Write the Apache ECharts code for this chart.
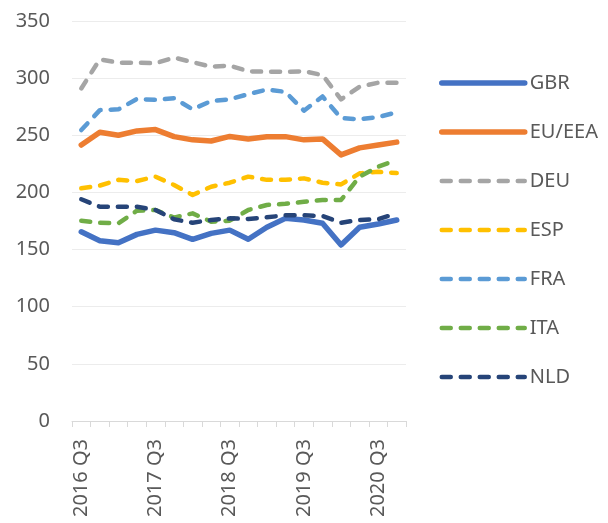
<!DOCTYPE html>
<html><head><meta charset="utf-8">
<script src="https://cdn.jsdelivr.net/npm/echarts@6/dist/echarts.min.js"></script>
<style>html,body{margin:0;padding:0;background:#fff}#c{width:608px;height:523px}</style>
</head><body><div id="c"></div>
<script>
const categories = ["2016 Q3","2016 Q4","2017 Q1","2017 Q2","2017 Q3","2017 Q4","2018 Q1","2018 Q2","2018 Q3","2018 Q4","2019 Q1","2019 Q2","2019 Q3","2019 Q4","2020 Q1","2020 Q2","2020 Q3","2020 Q4"];
const GBR = [165.6,157.8,156,163.3,167,164.8,159,164.2,167,159,169.5,177.3,175.9,173,154,169.5,172.4,175.9];
const EU_EEA = [241.5,252.6,250,253.8,255,248.8,246,245,249,246.8,248.8,248.8,246,246.8,232.8,239,241.5,244];
const DEU = [291,316.5,313.5,313.5,313,318,314,310,311,306,305.6,305.6,306,302.7,281.5,292.5,296,296];
const ESP = [203.6,206,211,210,213.8,206.5,197.8,205,208.5,213.8,211,211,212.3,208.5,207,216.7,218,217];
const FRA = [254.6,272,272.7,281.8,281,282.4,272.7,280,281.5,286,290,288,271.5,284,265,264,266,270];
const ITA = [175.3,173.5,173,184,184.6,178,181.7,174.4,175.3,184.6,189,190,191.9,193.4,193.4,213.8,222.5,228.4];
const NLD = [194,187.5,187.5,187.5,184.6,176.5,173.5,175.9,177.3,176.8,178.2,180,180,179.4,173.5,175.9,176.5,181.7];
const yTicks = [0,50,100,150,200,250,300,350];

const seriesDefs = [
  {name:"GBR", data:GBR, color:"#4472C4", dashed:false},
  {name:"EU/EEA", data:EU_EEA, color:"#ED7D31", dashed:false},
  {name:"DEU", data:DEU, color:"#A5A5A5", dashed:true},
  {name:"ESP", data:ESP, color:"#FFC000", dashed:true},
  {name:"FRA", data:FRA, color:"#5B9BD5", dashed:true},
  {name:"ITA", data:ITA, color:"#70AD47", dashed:true},
  {name:"NLD", data:NLD, color:"#264478", dashed:true}
];
const font = "'Noto Sans', 'Open Sans', sans-serif";
const chart = echarts.init(document.getElementById('c'), null, {renderer:'canvas'});
const lineStyleFor = s => ({color:s.color, width:s.dashed?4.5:5.5, type:s.dashed?[9,10]:'solid', cap:'round', join:'round'});
chart.setOption({
  animation:false,
  backgroundColor:'#fff',
  grid:{left:72, right:202, top:21, bottom:102, containLabel:false},
  xAxis:{
    type:'category', data:categories, boundaryGap:true,
    axisLine:{lineStyle:{color:'#d9d9d9', width:1}},
    axisTick:{show:true, interval:0, length:6, lineStyle:{color:'#d9d9d9'}},
    axisLabel:{interval:3, rotate:90, color:'#595959', fontSize:20, fontFamily:font, margin:18}
  },
  yAxis:{
    type:'value', min:yTicks[0], max:yTicks[yTicks.length-1], interval:50,
    axisLine:{show:false}, axisTick:{show:false},
    splitLine:{lineStyle:{color:'#ececec', width:1}},
    axisLabel:{color:'#595959', fontSize:20, fontFamily:font, margin:22}
  },
  legend:{
    orient:'vertical', left:434, top:68, itemWidth:83, itemHeight:20, itemGap:29,
    textStyle:{color:'#595959', fontSize:20, fontFamily:font},
    data:seriesDefs.map(s=>({name:s.name, itemStyle:{opacity:0}, lineStyle:lineStyleFor(s)}))
  },
  series:seriesDefs.map(s=>({
    name:s.name, type:'line', data:s.data, symbol:'none', smooth:false,
    color:s.color,
    lineStyle:lineStyleFor(s)
  }))
});
</script></body></html>
